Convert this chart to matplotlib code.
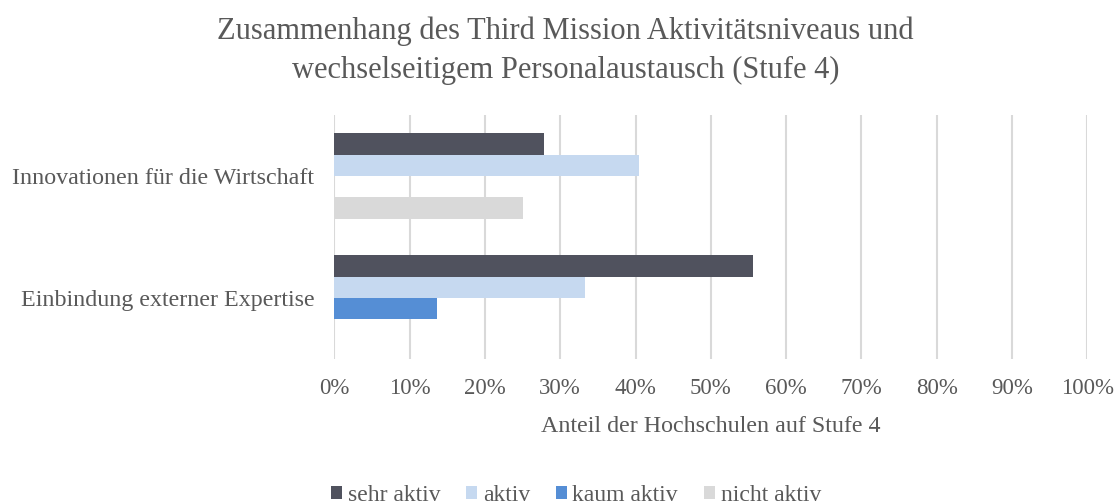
import matplotlib
matplotlib.use("Agg")
import matplotlib.pyplot as plt
import numpy as np
from matplotlib.ticker import PercentFormatter

categories = ["Innovationen für die Wirtschaft", "Einbindung externer Expertise"]
series_names = ["sehr aktiv", "aktiv", "kaum aktiv", "nicht aktiv"]
sehr_aktiv = [27.8, 55.6]
aktiv = [40.5, 33.3]
kaum_aktiv = [0.0, 13.7]
nicht_aktiv = [25.0, 0.0]
xticks = list(range(0, 101, 10))

colors = ["#50525E", "#C6D9F0", "#558ED5", "#D9D9D9"]
text_color = "#595959"

plt.rcParams["font.family"] = ["Liberation Serif", "DejaVu Serif"]

fig = plt.figure(figsize=(11.19, 5.04), dpi=100)
ax = fig.add_axes([334.3 / 1119, 1 - 359 / 504, (1087.3 - 334.3) / 1119, (359 - 115) / 504])

values = [sehr_aktiv, aktiv, kaum_aktiv, nicht_aktiv]
y = np.arange(len(categories))
h = 21.3 / 122
for i, (name, vals, c) in enumerate(zip(series_names, values, colors)):
    ax.barh(y + (i - 1.5) * h, vals, height=h, color=c, label=name, zorder=3)

ax.set_ylim(1.5, -0.5)
ax.set_xlim(0, 100)
ax.set_xticks(xticks)
ax.xaxis.set_major_formatter(PercentFormatter(100, decimals=0))
ax.set_yticks(y)
ax.set_yticklabels(categories)
ax.grid(axis="x", color="#D9D9D9", linewidth=1.5, zorder=0)
for s in ax.spines.values():
    s.set_visible(False)
ax.tick_params(axis="x", length=0, pad=14, labelsize=16.5, labelcolor=text_color)
ax.tick_params(axis="y", length=0, pad=14.5, labelsize=17.3, labelcolor=text_color)

fig.text((334.3 + 1087.3) / 2 / 1119, 1 - 432 / 504, "Anteil der Hochschulen auf Stufe 4",
         ha="center", va="baseline", fontsize=17.3, color=text_color)

fig.text(565.5 / 1119, 1 - 78 / 504,
         "Zusammenhang des Third Mission Aktivitätsniveaus und\nwechselseitigem Personalaustausch (Stufe 4)",
         ha="center", va="baseline", fontsize=22, color=text_color, linespacing=1.45,
         multialignment="center")

leg = fig.legend(loc="lower center", bbox_to_anchor=(576 / 1119, -0.022), ncol=4, frameon=False,
                 fontsize=17, handlelength=0.45, handleheight=0.45, handletextpad=0.25,
                 columnspacing=1.1, borderaxespad=0)
for t in leg.get_texts():
    t.set_color(text_color)

fig.savefig("out.png", dpi=100)
